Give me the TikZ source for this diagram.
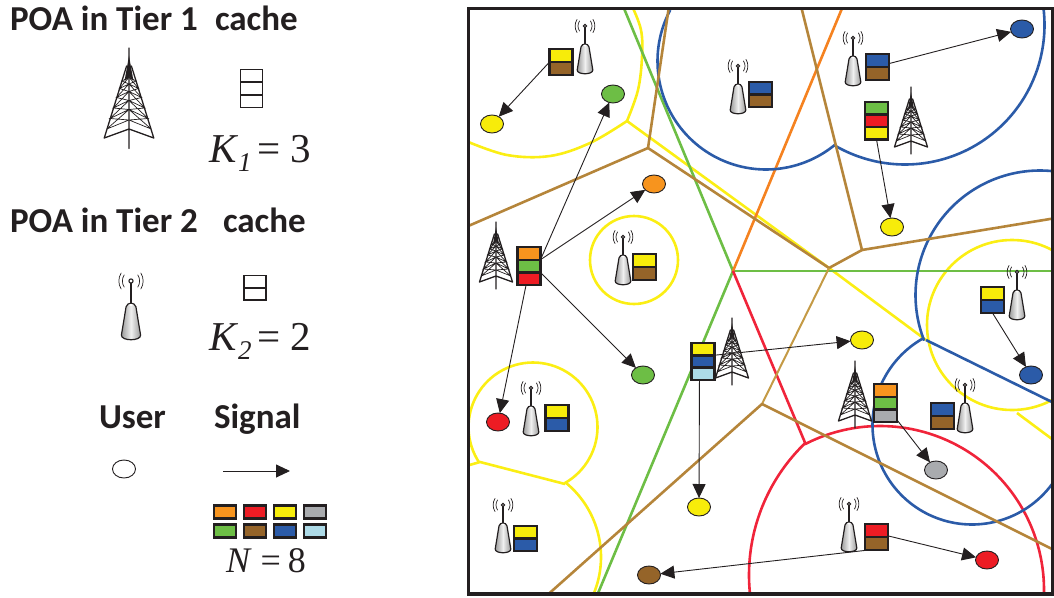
\documentclass[tikz,border=0pt]{standalone}
\usepackage{fontspec}
\usetikzlibrary{arrows.meta,shapes.geometric}
\newfontfamily\lblfont{Carlito}
\newfontfamily\eqfont{Liberation Serif}
\definecolor{ink}{HTML}{231F20}
\definecolor{cOrange}{HTML}{F7941E}
\definecolor{cRed}{HTML}{ED1C24}
\definecolor{cYellow}{HTML}{F7EC0A}
\definecolor{cGray}{HTML}{A9ABAE}
\definecolor{cGreen}{HTML}{6DBE45}
\definecolor{cBrown}{HTML}{956429}
\definecolor{cBlue}{HTML}{2B5BA8}
\definecolor{cLight}{HTML}{AEDBE8}
\definecolor{lBrown}{HTML}{B5853A}
\definecolor{lTan}{HTML}{C49A45}
\definecolor{lOrange}{HTML}{F58220}
\definecolor{lYellow}{HTML}{FBEE14}
\definecolor{lRed}{HTML}{F0243A}
\newcommand\cachestack[6]{%
  \foreach \c [count=\i] in {#6}
    \node[cell,fill=\c,minimum width=#4pt,minimum height=#5pt] (#1\i) at (#2,{#3+(\i-.5)*#5}) {};}
\newcommand\eqsub[6]{% x, y, em size, main, sub, rest
  \node[txt,font=\eqfont] at (#1,#2) {\fontsize{#3}{#3}\selectfont\textit{#4}\raisebox{-9pt}{\fontsize{27}{27}\selectfont\textit{#5}}#6};}
\newcommand\zarc[6]{% colour, cx, cy, r, from, to
  \draw[zone,#1] plot[domain=#5:#6,samples=70,smooth] ({#2+#4*cos(\x)},{#3+#4*sin(\x)});}
\tikzset{
  cell/.style={draw=ink,line width=2.4pt,inner sep=0pt,outer sep=0pt},
  user/.style={ellipse,draw=ink,line width=.9pt,minimum width=23pt,minimum height=18pt,inner sep=0pt,outer sep=0pt},
  sig/.style={draw=ink,line width=.9pt,-{Triangle[length=14pt,width=13pt]}},
  zone/.style={line width=2.6pt,line join=round},
  txt/.style={anchor=base west,inner sep=0pt,outer sep=0pt,text=ink},
  head/.style={txt,font=\lblfont\bfseries\fontsize{35}{35}\selectfont},
  pics/bigtower/.style={code={
    \draw[ink,line width=.7pt]
      (-14.8,54) -- (0,48) -- (14.8,54)
      (-12.7,47) -- (0,41) -- (12.7,47)
      (-10.5,40) -- (0,35) -- (10.5,40)
      (-8.4,33) -- (0,29) -- (8.4,33)
      (-6.4,27) -- (0,24) -- (6.4,27)
      (-4.7,22) -- (0,19.5) -- (4.7,22)
      (-14.8,54) -- (0,41) -- (12.7,47) -- (0,48) -- (-12.7,47) -- (0,41)
      (14.8,54) -- (0,41)
      (-12.7,47) -- (0,35) -- (10.5,40) -- (0,41) -- (-10.5,40) -- (0,35)
      (12.7,47) -- (0,35)
      (-10.5,40) -- (0,29) -- (8.4,33) -- (0,35) -- (-8.4,33) -- (0,29)
      (10.5,40) -- (0,29)
      (-8.4,33) -- (0,24) -- (6.4,27) -- (0,29) -- (-6.4,27) -- (0,24)
      (8.4,33) -- (0,24)
      (-6.4,27) -- (0,19.5) -- (4.7,22) -- (0,24) -- (-4.7,22) -- (0,19.5)
      (6.4,27) -- (0,19.5);
    \draw[ink,line width=1.3pt,line cap=round]
      (-16.5,60) -- (-1.6,12) (16.5,60) -- (1.6,12)
      (0,0) -- (0,67)
      (-16.5,60) -- (0,54) -- (16.5,60);
    \fill[ink] (-1.2,12) -- (0,5) -- (1.2,12) -- (3,22) -- (0,19) -- (-3,22) -- cycle;
  }},
  pics/smalltower/.style={code={
    \draw[ink,line width=.7pt,line cap=round]
      (-5.5,-5) .. controls (-7.5,-2) and (-7.5,2) .. (-5.5,5)
      (5.5,-5) .. controls (7.5,-2) and (7.5,2) .. (5.5,5)
      (-8,-6.5) .. controls (-10.5,-2.5) and (-10.5,2.5) .. (-8,6.5)
      (8,-6.5) .. controls (10.5,-2.5) and (10.5,2.5) .. (8,6.5);
    \draw[ink,line width=1.4pt] (0,0) -- (0,18);
    \draw[ink,line width=1.2pt,left color=black!40,right color=black!40,middle color=black!6]
      (-4,21) .. controls (-3,17) and (3,17) .. (4,21)
      -- (7.8,44) .. controls (8,49) and (-8,49) .. (-7.8,44) -- cycle;
    \draw[ink,line width=1.1pt,fill=white] (0,0) circle (1.7);
    \fill[white] (0,19.5) ellipse (1.6 and 1);
  }},
}
\begin{document}
\begin{tikzpicture}[x=1pt,y=-1pt]
\useasboundingbox (0,0) rectangle (1054,597);
% ---------- map zones
\begin{scope}
\clip (468.5,8.5) rectangle (1052.5,594);
% yellow
\draw[zone,lYellow] (634,260) circle (44);
\draw[zone,lYellow] plot[smooth,tension=.6] coordinates {(632,6) (641,30) (642,57) (638,90) (627,121)};
\draw[zone,lYellow] plot[smooth,tension=.6] coordinates {(627,121) (590,143) (550,156) (507,155) (466,141)};
\draw[zone,lYellow] (627,121) -- (829,268) -- (926,340);
\zarc{lYellow}{533}{427}{64.5}{60.7}{-213.4}
\draw[zone,lYellow] (466,466) -- (480,462) -- (565,484);
\zarc{lYellow}{505}{557}{96}{-51}{28}
\draw[zone,lYellow] (1012,325) circle (85);
\draw[zone,lYellow] (1017,413) -- (1056,442);
% green, orange, red
\draw[zone,cGreen] (623,6) -- (733,271) -- (596,598);
\draw[zone,cGreen] (733,271) -- (1056,271);
\draw[zone,lOrange] (733,271) -- (843,6);
\draw[zone,lRed] (733,271) -- (806,445);
\zarc{lRed}{932}{575}{183}{226}{172}
\zarc{lRed}{880}{590}{164}{243}{363}
% blue
\zarc{cBlue}{766}{61}{108.5}{208}{50.5}
\zarc{cBlue}{905}{25}{139.5}{120.6}{-7}
\zarc{cBlue}{1040}{295}{124.5}{158.5}{277}
\draw[zone,cBlue] (926,340) -- (1056,404);
\zarc{cBlue}{972}{425}{99.5}{241}{30}
% brown
\draw[zone,lBrown] (669,6) -- (648,148) -- (466,227);
\draw[zone,lBrown] (648,148) -- (829,268) -- (862,250) -- (801,6);
\draw[zone,lBrown] (862,250) -- (1056,218);
\draw[zone,lTan,line width=2pt] (829,268) -- (762,404);
\draw[zone,lBrown] (544,598) -- (762,404) -- (1056,551);
\end{scope}
\draw[ink,line width=3.5pt] (468.5,8.5) rectangle (1052.5,594);
% ---------- towers
\pic (t1) at (496,222) {bigtower};
\pic (t2) at (911,87) {bigtower};
\pic (t3) at (732,318) {bigtower};
\pic (t4) at (855,361) {bigtower};
\foreach \n/\x/\y in {s1/585/26,s2/738/66,s3/853/38,s4/623/237,s5/1017/272,s6/531/388,s7/965/385,s8/503/505,s9/849/504}
  \pic (\n) at (\x,\y) {smalltower};
% ---------- caches
\cachestack{ca}{561}{49}{23}{13}{cYellow,cBrown}
\cachestack{cb}{760.5}{82}{23}{12.5}{cBlue,cBrown}
\cachestack{cc}{877.5}{54}{23}{13}{cBlue,cBrown}
\cachestack{cd}{876.5}{102}{23}{12.5}{cGreen,cRed,cYellow}
\cachestack{ce}{529}{247}{23}{12.7}{cOrange,cGreen,cRed}
\cachestack{cf}{644.5}{254}{23}{13}{cYellow,cBrown}
\cachestack{cg}{992.5}{287}{23}{13}{cYellow,cBlue}
\cachestack{ch}{703}{343}{23}{12.3}{cYellow,cBlue,cLight}
\cachestack{ci}{885.5}{384}{23}{12.7}{cOrange,cGreen,cGray}
\cachestack{cj}{942.5}{403}{23}{13}{cBlue,cBrown}
\cachestack{ck}{557}{405}{23}{13}{cYellow,cBlue}
\cachestack{cl}{525.5}{526}{23}{12.5}{cYellow,cBlue}
\cachestack{cm}{876.5}{524}{23}{13}{cRed,cBrown}
% ---------- users
\node[user,fill=cYellow] (u1) at (492,124) {};
\node[user,fill=cGreen] (u2) at (613,94) {};
\node[user,fill=cOrange] (u3) at (654,184) {};
\node[user,fill=cBlue] (u4) at (1022,29) {};
\node[user,fill=cYellow] (u5) at (892,227) {};
\node[user,fill=cGreen] (u6) at (643,375) {};
\node[user,fill=cRed] (u7) at (498,422) {};
\node[user,fill=cYellow] (u8) at (699,507) {};
\node[user,fill=cBrown] (u9) at (649,575) {};
\node[user,fill=cYellow] (u10) at (862,340) {};
\node[user,fill=cBlue] (u11) at (1031,375) {};
\node[user,fill=cGray] (u12) at (936,470) {};
\node[user,fill=cRed] (u13) at (987,560) {};
% ---------- signals
\draw[sig] (ca1.south west) -- (u1);
\draw[sig] (ce2.north east) -- (u2);
\draw[sig] (ce1.south east) -- (u3);
\draw[sig] (ce2.south east) -- (u6);
\draw[sig] (ce3.-115) -- (u7);
\draw[sig] (cc1.-15) -- (u4);
\draw[sig] (cd3.-90) -- (u5);
\draw[sig] (cg2.-90) -- (u11);
\draw[sig] (ch1.-30) -- (u10);
\draw[sig] (ch3.-120) -- (u8);
\draw[sig] (ci3.-20) -- (u12);
\draw[sig] (cm1.-25) -- (u13);
\draw[sig] (cm2.-140) -- (u9);
% ---------- legend
\node[head] (h1) at (10,30) {POA in Tier 1};
\node[head] (h2) at (215,30) {cache};
\node[head] (h3) at (10,232) {POA in Tier 2};
\node[head] (h4) at (223,232) {cache};
\node[head] (h5) at (99,428) {User};
\node[head] (h6) at (214,428) {Signal};
\pic[scale=1.5] (lt1) at (129,48) {bigtower};
\pic[scale=1.23] (lt2) at (131,281) {smalltower};
\begin{scope}[cell/.append style={line width=1.6pt}]
\cachestack{la}{251.5}{69.5}{22}{12.7}{white,white,white}
\cachestack{lb}{255}{275.5}{22}{12.3}{white,white}
\end{scope}
\eqsub{209}{162}{41}{K}{1}{\hspace{6pt}=\hspace{10pt}3}
\eqsub{209}{350}{41}{K}{2}{\hspace{6pt}=\hspace{10pt}2}
\node[txt,font=\eqfont\fontsize{36}{36}\selectfont] at (226,572) {\textit{N}\hspace{9pt}=\hspace{7pt}8};
\node[user,fill=white] (lu) at (124,469) {};
\coordinate (sa) at (223,471);
\coordinate (sb) at (290,471);
\draw[sig] (sa) -- (sb);
\foreach \c/\x/\y [count=\k] in {cOrange/225/512,cRed/255/512,cYellow/285/512,cGray/315/512,cGreen/225/531,cBrown/255/531,cBlue/285/531,cLight/315/531}
  \node[cell,fill=\c,minimum width=22pt,minimum height=13pt] (lc\k) at (\x,\y) {};
\end{tikzpicture}
\end{document}
